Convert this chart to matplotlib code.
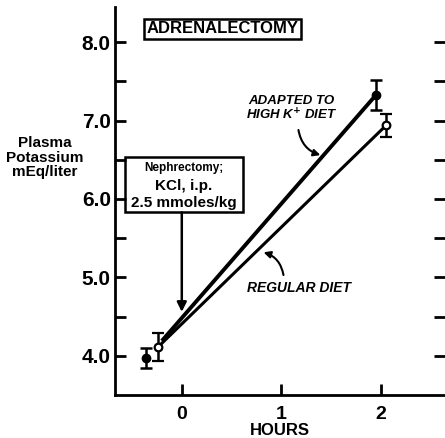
import matplotlib
matplotlib.use('Agg')
import matplotlib.pyplot as plt

# data
hours_adapted = [-0.36, 1.95]
k_adapted = [3.97, 7.33]
err_adapted = [0.13, 0.19]

hours_regular = [-0.24, 2.05]
k_regular = [4.11, 6.94]
err_regular = [0.18, 0.15]

# regression lines drawn through the points
line_adapted_x = [-0.2, 1.95]
line_adapted_y = [4.19, 7.33]
line_regular_x = [-0.24, 2.05]
line_regular_y = [4.11, 6.94]

xticks = [0, 1, 2]
yticks = [4.0, 5.0, 6.0, 7.0, 8.0]

plt.rcParams['font.family'] = ['Liberation Sans', 'DejaVu Sans']
plt.rcParams['font.weight'] = 'bold'

fig = plt.figure(figsize=(4.45, 4.38), dpi=100)
ax = fig.add_axes([0.2584, 0.0982, 0.7416, 0.886])

ax.plot(line_adapted_x, line_adapted_y, color='black', lw=2.8, solid_capstyle='butt')
ax.plot(line_regular_x, line_regular_y, color='black', lw=2.2, solid_capstyle='butt')

ax.errorbar(hours_adapted, k_adapted, yerr=err_adapted, fmt='o', color='black',
            ms=6, mfc='black', mec='black', ecolor='black', elinewidth=1.8,
            capsize=4, capthick=1.8)
ax.errorbar(hours_regular, k_regular, yerr=err_regular, fmt='o', color='black',
            ms=5.5, mfc='white', mec='black', mew=1.6, ecolor='black',
            elinewidth=1.8, capsize=4, capthick=1.8, zorder=4)

ax.set_xlim(-0.67, 2.64)
ax.set_ylim(3.5, 8.45)

ax.set_xticks(xticks)
ax.set_xticklabels([str(t) for t in xticks], fontsize=14, fontweight='bold')
ax.set_yticks(yticks)
ax.set_yticklabels(['{:.1f}'.format(t) for t in yticks], fontsize=15, fontweight='bold')
ax.set_yticks([4.5, 5.5, 6.5, 7.5], minor=True)

ax.spines['top'].set_visible(False)
ax.spines['right'].set_visible(False)
ax.spines['left'].set_linewidth(2)
ax.spines['bottom'].set_linewidth(2)
ax.tick_params(axis='y', which='both', direction='in', length=8, width=2,
               left=True, right=True, pad=3)
ax.tick_params(axis='x', direction='in', length=8, width=2, pad=8)

ax.set_xlabel('HOURS', fontsize=12, fontweight='bold', labelpad=0)
fig.text(0.1, 0.64, 'Plasma\nPotassium\nmEq/liter', ha='center', va='center',
         fontsize=11, fontweight='bold', linespacing=1.05)

ax.text(0.41, 8.17, 'ADRENALECTOMY', ha='center', va='center', fontsize=12,
        fontweight='bold',
        bbox=dict(boxstyle='square,pad=0.15', fc='white', ec='black', lw=1.8))

ax.text(0.02, 6.39, 'Nephrectomy;', ha='center', va='center', fontsize=8.5,
        fontweight='bold')
ax.text(0.02, 6.17, 'KCl, i.p.', ha='center', va='center', fontsize=11,
        fontweight='bold')
ax.text(0.02, 5.95, '2.5 mmoles/kg', ha='center', va='center', fontsize=11,
        fontweight='bold')
ax.add_patch(plt.Rectangle((-0.57, 5.83), 1.18, 0.71, fill=False, ec='black',
                           lw=1.8, transform=ax.transData, clip_on=False))
ax.annotate('', xy=(0.0, 4.56), xytext=(0.0, 5.83),
            arrowprops=dict(arrowstyle='-|>', color='black', lw=1.8,
                            mutation_scale=14, shrinkA=0, shrinkB=0))

ax.text(1.1, 7.15, 'ADAPTED TO\nHIGH K$^{+}$ DIET', ha='center', va='center',
        fontsize=9.5, fontweight='bold', style='italic', linespacing=1.05)
ax.annotate('', xy=(1.39, 6.56), xytext=(1.17, 6.88),
            arrowprops=dict(arrowstyle='-|>', color='black', lw=1.5,
                            mutation_scale=10, shrinkA=0, shrinkB=0,
                            connectionstyle='arc3,rad=0.3'))

ax.text(1.18, 4.87, 'REGULAR DIET', ha='center', va='center', fontsize=10,
        fontweight='bold', style='italic')
ax.annotate('', xy=(0.82, 5.32), xytext=(1.02, 5.03),
            arrowprops=dict(arrowstyle='-|>', color='black', lw=1.5,
                            mutation_scale=10, shrinkA=0, shrinkB=0,
                            connectionstyle='arc3,rad=0.3'))

plt.savefig('out.png', dpi=100)
